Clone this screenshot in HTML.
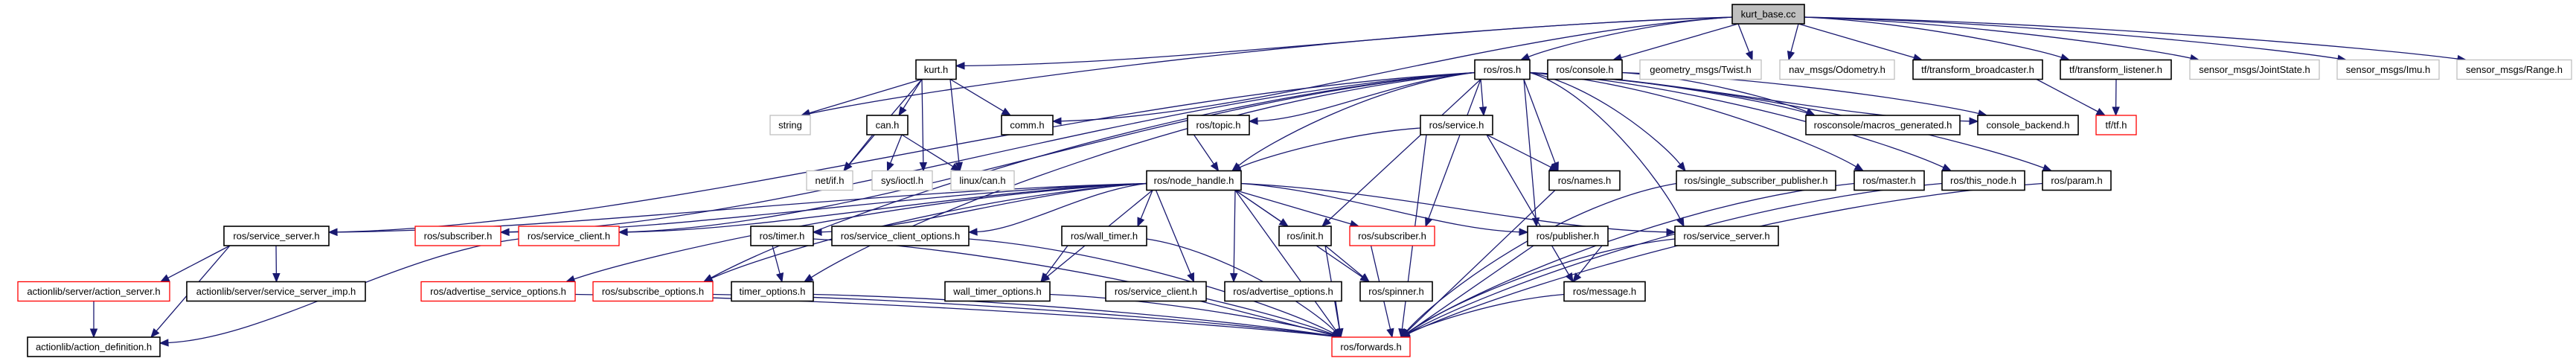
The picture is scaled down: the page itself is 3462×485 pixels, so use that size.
<!DOCTYPE html>
<html><head><meta charset="utf-8">
<style>
html,body{margin:0;padding:0;background:#fff;}
svg{display:block;}
text{font-family:"Liberation Sans",Arial,sans-serif;font-size:13px;fill:#000;}
</style></head>
<body>
<svg id="g" width="3462" height="485" xmlns="http://www.w3.org/2000/svg">
<rect width="3462" height="485" fill="#fff"/>
<g id="edges"></g><g id="nodes"></g>
</svg>
<script>
var R=[6,80.5,155,229.5,304,378.5,453],H=26;
var N={
root:["kurt_base.cc",2328,2425,0,"root"],
kurt:["kurt.h",1231,1285,1,"b"],
rosros:["ros/ros.h",1982,2056,1,"b"],
console:["ros/console.h",2080,2180,1,"b"],
twist:["geometry_msgs/Twist.h",2204,2367,1,"g"],
odom:["nav_msgs/Odometry.h",2392,2546,1,"g"],
tfb:["tf/transform_broadcaster.h",2571,2745,1,"b"],
tfl:["tf/transform_listener.h",2769,2918,1,"b"],
joint:["sensor_msgs/JointState.h",2943,3117,1,"g"],
imu:["sensor_msgs/Imu.h",3141,3278,1,"g"],
range:["sensor_msgs/Range.h",3302,3456,1,"g"],
string:["string",1035,1089,2,"g"],
can:["can.h",1165,1220,2,"b"],
comm:["comm.h",1346,1415,2,"b"],
topic:["ros/topic.h",1596,1679,2,"b"],
service:["ros/service.h",1909,2006,2,"b"],
macros:["rosconsole/macros_generated.h",2427,2634,2,"b"],
backend:["console_backend.h",2658,2793,2,"b"],
tf:["tf/tf.h",2817,2871,2,"r"],
netif:["net/if.h",1084,1146,3,"g"],
ioctl:["sys/ioctl.h",1172,1253,3,"g"],
lcan:["linux/can.h",1278,1363,3,"g"],
nh:["ros/node_handle.h",1541,1668,3,"b"],
names:["ros/names.h",2082,2177,3,"b"],
ssp:["ros/single_subscriber_publisher.h",2253,2467,3,"b"],
master:["ros/master.h",2492,2586,3,"b"],
thisn:["ros/this_node.h",2610,2721,3,"b"],
param:["ros/param.h",2745,2837,3,"b"],
ssL:["ros/service_server.h",301,442,4,"b"],
subL:["ros/subscriber.h",558,673,4,"r"],
scL:["ros/service_client.h",697,832,4,"r"],
timer:["ros/timer.h",1009,1093,4,"b"],
sco:["ros/service_client_options.h",1118,1302,4,"b"],
wt:["ros/wall_timer.h",1427,1541,4,"b"],
init:["ros/init.h",1719,1789,4,"b"],
subR:["ros/subscriber.h",1814,1928,4,"r"],
pub:["ros/publisher.h",2053,2161,4,"b"],
ssR:["ros/service_server.h",2251,2390,4,"b"],
as:["actionlib/server/action_server.h",24,228,5,"r"],
ssi:["actionlib/server/service_server_imp.h",251,491,5,"b"],
aso:["ros/advertise_service_options.h",566,773,5,"r"],
subo:["ros/subscribe_options.h",797,958,5,"r"],
to:["timer_options.h",983,1093,5,"b"],
wto:["wall_timer_options.h",1270,1411,5,"b"],
sc:["ros/service_client.h",1486,1621,5,"b"],
ao:["ros/advertise_options.h",1646,1803,5,"b"],
spin:["ros/spinner.h",1828,1925,5,"b"],
msg:["ros/message.h",2102,2211,5,"b"],
ad:["actionlib/action_definition.h",37,215,6,"b"],
fw:["ros/forwards.h",1790,1895,6,"r"]
};
var E=[
"root string","root kurt","root comm","root rosros","root console","root twist","root odom","root tfb","root tfl","root joint","root imu","root range",
"kurt string","kurt netif","kurt can","kurt ioctl","kurt lcan","kurt comm",
"can netif","can ioctl","can lcan",
"rosros topic","rosros nh","rosros service","rosros names","rosros init","rosros subR","rosros pub","rosros ssR","rosros ssp","rosros master","rosros thisn","rosros param","rosros macros","rosros backend","rosros ssL","rosros subL","rosros scL","rosros to","rosros subo",
"console macros","console backend","tfb tf","tfl tf",
"service nh","service names","service fw","service msg","topic nh",
"nh ssL","nh subL","nh scL","nh timer","nh sco","nh aso","nh subo","nh wt","nh wto","nh sc","nh ao","nh init","nh spin","nh subR","nh pub","nh ssR","nh fw",
"ssL as","ssL ssi","ssL ad","as ad","scL ad",
"timer to","timer fw","wt wto","wt fw","sco fw","to fw","wto fw","sc fw","ao fw","aso fw","subo fw","init spin","init fw","subR fw","pub msg","pub fw","ssR fw","names fw","ssp fw","master fw","thisn fw","param fw","msg fw"
];
var SIDE={"root kurt":1,"rosros ssL":1,"rosros subL":1,"rosros scL":1,"nh ssL":1,"nh subL":1,"nh scL":1,"nh pub":1,"nh ssR":1,"rosros backend":1,"rosros comm":1,"root comm":1,"nh timer":1,"nh sco":1,"scL ad":1,"rosros topic":1};
var NS="http://www.w3.org/2000/svg";
function el(t,a,p){var e=document.createElementNS(NS,t);for(var k in a)e.setAttribute(k,a[k]);p.appendChild(e);return e;}
var eg=document.getElementById("edges"),ng=document.getElementById("nodes");
function cl(v,a,b){return Math.max(a,Math.min(b,v));}
E.forEach(function(s){
 var p=s.split(" "),a=N[p[0]],b=N[p[1]];
 var acx=(a[1]+a[2])/2,bcx=(b[1]+b[2])/2;
 var x1,y1,x2,y2,c1x,c1y,c2x,c2y;
 var far=(bcx<a[1]-250||bcx>a[2]+250);
 if(far){ x1=bcx<acx?a[1]:a[2]; y1=R[a[3]]+H/2+4; }
 else { x1=cl(bcx,a[1]+8,a[2]-8); y1=R[a[3]]+H; }
 if(SIDE[s]){
   x2=bcx<acx?b[2]:b[1]; y2=R[b[3]]+8;
   var dx=x2-x1,dy=y2-y1;
   c1x=x1+dx*0.35;c1y=y1+dy*0.15;c2x=x2-dx*0.3;c2y=y2-dy*0.05;
 } else {
   x2=cl(acx,b[1]+12,b[2]-12); y2=R[b[3]];
   var dx=x2-x1,dy=y2-y1;
   if(far){c1x=x1+dx*0.4;c1y=y1+dy*0.12;c2x=x1+dx*0.85;c2y=y1+dy*0.7;}
   else{c1x=x1+dx*0.33;c1y=y1+dy*0.33;c2x=x1+dx*0.75;c2y=y1+dy*0.75;}
 }
 var ux=x2-c2x,uy=y2-c2y,ul=Math.sqrt(ux*ux+uy*uy)||1;ux/=ul;uy/=ul;
 var al=11,aw=4.5,bx=x2-ux*al,bY=y2-uy*al;
 el("path",{d:"M"+x1+","+y1+" C"+c1x+","+c1y+" "+c2x+","+c2y+" "+bx+","+bY,fill:"none",stroke:"#191970","stroke-width":"1.3"},eg);
 el("polygon",{points:x2+","+y2+" "+(bx-uy*aw)+","+(bY+ux*aw)+" "+(bx+uy*aw)+","+(bY-ux*aw),fill:"#191970",stroke:"#191970"},eg);
});
for(var k in N){var n=N[k],y=R[n[3]];
 var st=n[4]=="g"?"#bfbfbf":(n[4]=="r"?"#ff0000":"#000");
 el("rect",{x:n[1],y:y,width:n[2]-n[1],height:H,fill:n[4]=="root"?"#bfbfbf":"#fff",stroke:st,"stroke-width":n[4]=="b"||n[4]=="root"?1.6:1.3},ng);
 var t=el("text",{x:(n[1]+n[2])/2,y:y+17.5,"text-anchor":"middle"},ng);t.textContent=n[0];}
</script>
</body></html>
